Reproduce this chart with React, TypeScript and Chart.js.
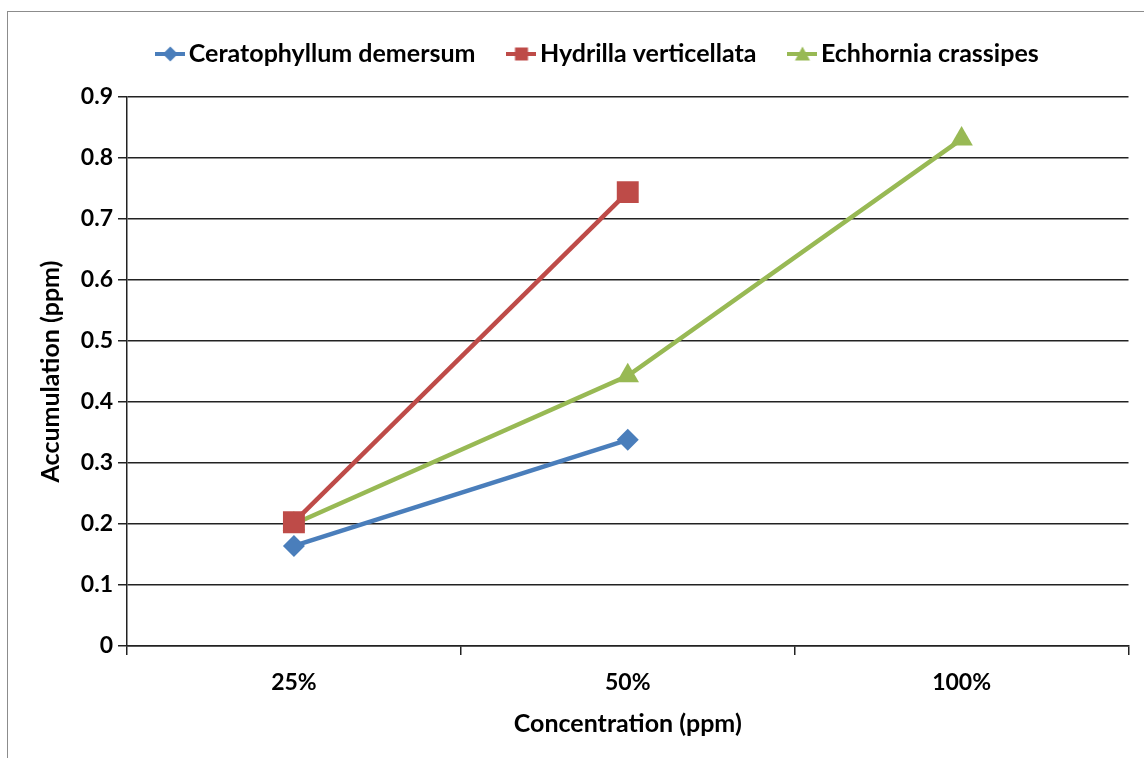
import React, { useEffect, useRef } from 'react';
import { Chart, registerables } from 'chart.js';

Chart.register(...registerables);

const categories = ['25%', '50%', '100%'];
const seriesNames = ['Ceratophyllum demersum', 'Hydrilla verticellata', 'Echhornia crassipes'];
const ceratophyllum = [0.164, 0.338, null];
const hydrilla = [0.203, 0.744, null];
const echhornia = [0.2, 0.443, 0.831];
const yTicks = [0, 0.1, 0.2, 0.3, 0.4, 0.5, 0.6, 0.7, 0.8, 0.9];

const colors = ['#4A7EBB', '#BE4B48', '#98B954'];
const styles = ['rectRot', 'rect', 'triangle'];
const radii = [11, 15.5, 13];

const FONT = 'Lato';
const LEGEND_EXTRA = 20.5;
const LEGEND_SHIFT = 32;

function legendIcon(color: string, style: string): HTMLCanvasElement {
  const c = document.createElement('canvas');
  c.width = 30;
  c.height = 18;
  const ctx = c.getContext('2d')!;
  ctx.strokeStyle = color;
  ctx.fillStyle = color;
  ctx.lineWidth = 4;
  ctx.beginPath();
  ctx.moveTo(0, 9);
  ctx.lineTo(30, 9);
  ctx.stroke();
  ctx.beginPath();
  if (style === 'rectRot') {
    ctx.moveTo(15, 1.5);
    ctx.lineTo(22.5, 9);
    ctx.lineTo(15, 16.5);
    ctx.lineTo(7.5, 9);
  } else if (style === 'rect') {
    ctx.rect(8.5, 2.5, 13, 13);
  } else {
    ctx.moveTo(15, 1.5);
    ctx.lineTo(22.5, 15.5);
    ctx.lineTo(7.5, 15.5);
  }
  ctx.closePath();
  ctx.fill();
  return c;
}

const legendLayoutPlugin = {
  id: 'legendLayout',
  beforeLayout(chart: any) {
    const lg = chart.legend;
    if (lg && !lg._patchedFit) {
      const orig = lg.fit;
      lg.fit = function () {
        orig.call(this);
        this.height += LEGEND_EXTRA;
      };
      lg._patchedFit = true;
    }
  },
  afterLayout(chart: any) {
    const lg = chart.legend;
    if (lg) {
      lg.left += LEGEND_SHIFT;
      lg.right += LEGEND_SHIFT;
    }
  },
};

export default function App() {
  const ref = useRef<HTMLCanvasElement | null>(null);

  useEffect(() => {
    document.body.style.margin = '0';
    document.body.style.overflow = 'hidden';
    const canvas = ref.current!;
    const dataSets = [ceratophyllum, hydrilla, echhornia];
    const icons = colors.map((c, i) => legendIcon(c, styles[i]));
    const chart = new Chart(canvas, {
      type: 'line',
      data: {
        labels: categories,
        datasets: dataSets.map((d, i) => ({
          label: seriesNames[i],
          data: d,
          borderColor: colors[i],
          backgroundColor: colors[i],
          borderWidth: 4.5,
          pointStyle: styles[i] as any,
          pointRadius: radii[i],
          pointBorderWidth: 0,
          pointBackgroundColor: colors[i],
          pointBorderColor: colors[i],
          spanGaps: false,
          tension: 0,
        })),
      },
      plugins: [legendLayoutPlugin],
      options: {
        animation: false,
        responsive: false,
        maintainAspectRatio: false,
        layout: { padding: { left: 8, top: 1.5, right: 13, bottom: 0 } },
        plugins: {
          tooltip: { enabled: false },
          legend: {
            position: 'top',
            labels: {
              usePointStyle: true,
              pointStyleWidth: 12,
              padding: 40,
              color: '#000',
              font: { family: FONT, weight: 'bold', size: 25 },
              generateLabels: (ch: any) =>
                ch.data.datasets.map((ds: any, i: number) => ({
                  text: ds.label,
                  pointStyle: icons[i],
                  fillStyle: colors[i],
                  strokeStyle: colors[i],
                  lineWidth: 0,
                  hidden: false,
                  datasetIndex: i,
                  fontColor: '#000',
                })),
            },
          },
        },
        scales: {
          x: {
            type: 'category',
            offset: true,
            afterFit: (s: any) => {
              s.height = 112;
            },
            grid: {
              display: true,
              drawOnChartArea: false,
              drawTicks: true,
              tickLength: 9,
              color: '#222',
              lineWidth: 1.5,
              offset: true,
            },
            border: { display: true, color: '#222', width: 1.5 },
            ticks: {
              color: '#000',
              padding: 14,
              font: { family: FONT, weight: 'bold', size: 23 },
            },
            title: {
              display: true,
              text: 'Concentration (ppm)',
              color: '#000',
              padding: { top: 0, bottom: 19 },
              font: { family: FONT, weight: 'bold', size: 25 },
            },
          },
          y: {
            min: 0,
            max: 0.9,
            afterFit: (s: any) => {
              s.width = 119;
            },
            afterBuildTicks: (s: any) => {
              s.ticks = yTicks.map((v) => ({ value: v }));
            },
            grid: {
              color: '#222',
              lineWidth: 1.5,
              drawTicks: true,
              tickLength: 9,
            },
            border: { display: true, color: '#222', width: 1.5 },
            ticks: {
              color: '#000',
              padding: 5,
              crossAlign: 'near',
              font: { family: FONT, weight: 'bold', size: 23 },
              callback: (v: any) => (Number(v) === 0 ? '0' : Number(v).toFixed(1)),
            },
            title: {
              display: true,
              text: 'Accumulation (ppm)',
              color: '#000',
              padding: { top: 28, bottom: 0 },
              font: { family: FONT, weight: 'bold', size: 25 },
            },
          },
        },
      },
    });
    return () => chart.destroy();
  }, []);

  return (
    <div style={{ position: 'relative', width: 1144, height: 758, background: '#fff', overflow: 'hidden' }}>
      <div
        style={{
          position: 'absolute',
          left: 7,
          top: 11,
          width: 1150,
          height: 760,
          border: '1px solid #8c8c8c',
          boxSizing: 'border-box',
        }}
      />
      <canvas ref={ref} width={1144} height={758} style={{ position: 'absolute', left: 0, top: 0, display: 'block' }} />
    </div>
  );
}
